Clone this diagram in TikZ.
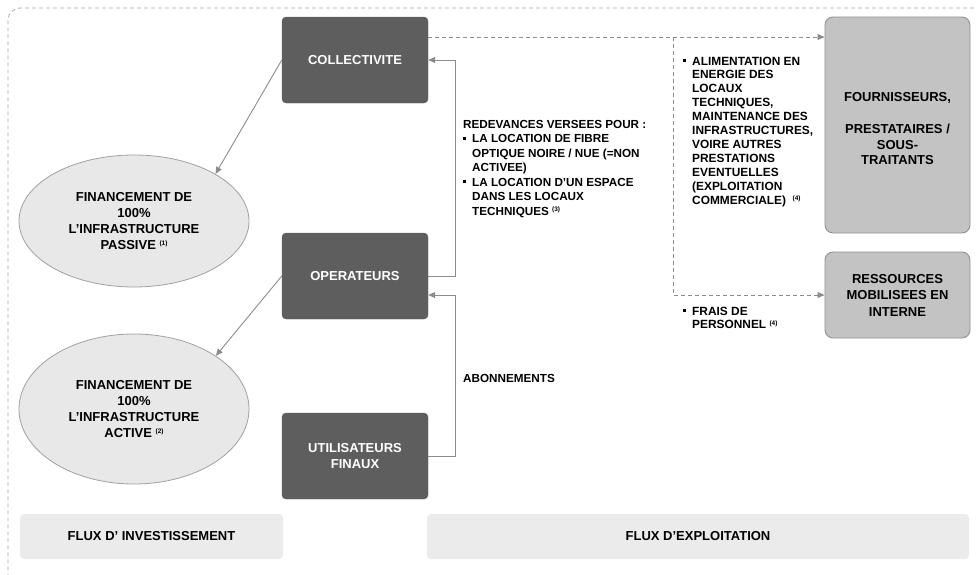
\documentclass[tikz,border=0pt]{standalone}
\usepackage{fontspec}
\setmainfont{Liberation Sans}
\usetikzlibrary{arrows.meta,shapes.geometric}
\definecolor{darkfill}{HTML}{5E5E5E}
\definecolor{ellfill}{HTML}{E8E8E8}
\definecolor{ellline}{HTML}{A0A0A0}
\definecolor{rightfill}{HTML}{C3C3C3}
\definecolor{rightline}{HTML}{909090}
\definecolor{fluxfill}{HTML}{EBEBEB}
\definecolor{connc}{HTML}{8C8C8C}
\definecolor{borderc}{HTML}{A8A8A8}
\newcommand{\bul}{\raisebox{2.7pt}{\rule{3pt}{3pt}}}
\newcommand{\bitem}{\makebox[9pt][l]{\bul}}
\newcommand{\bind}{\hspace*{9pt}}
\newcommand{\sups}[1]{\raisebox{3.5pt}{\fontsize{6.5}{6.5}\selectfont(#1)}}
\begin{document}
\begin{tikzpicture}[x=1pt,y=-1pt,
  darkbox/.style={draw=darkfill,fill=darkfill,rounded corners=4pt,minimum width=146pt,minimum height=86pt,
    text=white,font=\fontsize{13}{16}\selectfont\bfseries,align=center,inner sep=0pt},
  finell/.style={ellipse,draw=ellline,fill=ellfill,line width=0.8pt,inner sep=0pt,
    font=\fontsize{13}{16}\selectfont\bfseries,align=center},
  rightbox/.style={draw=rightline,fill=rightfill,line width=0.9pt,rounded corners=8pt,minimum width=145pt,
    font=\fontsize{13}{15.75}\selectfont\bfseries,align=center,inner sep=0pt},
  fluxbox/.style={fill=fluxfill,rounded corners=4pt,minimum height=45pt,
    font=\fontsize{13}{15}\selectfont\bfseries,inner sep=0pt},
  conn/.style={draw=connc,line width=0.9pt,-{Triangle[width=6pt,length=7pt]}},
  dconn/.style={draw=connc,line width=0.8pt,dash pattern=on 4pt off 3pt,-{Triangle[width=6pt,length=7pt]}},
  small/.style={font=\fontsize{11.7}{14.5}\selectfont\bfseries,inner sep=0pt,anchor=base west}
]
\useasboundingbox (0,0) rectangle (977,574);
\clip (0,0) rectangle (977,574);
% outer dashed frame (only top and left edges fall inside the picture)
\draw[borderc,line width=0.8pt,dash pattern=on 4pt off 3pt,rounded corners=12pt] (995,8) -- (8,8) -- (8,590) -- (995,590);

% dark boxes
\node[darkbox] (coll) at (355,60) {COLLECTIVITE};
\node[darkbox] (oper) at (355,276) {OPERATEURS};
\node[darkbox] (util) at (355,456) {UTILISATEURS\\FINAUX};

% ellipses
\node[finell,minimum width=230pt,minimum height=132pt] (e1) at (134,221)
  {FINANCEMENT DE\\100\%\\L’INFRASTRUCTURE\\PASSIVE \sups{1}};
\node[finell,minimum width=230pt,minimum height=150pt] (e2) at (134,409)
  {FINANCEMENT DE\\100\%\\L’INFRASTRUCTURE\\ACTIVE \sups{2}};

% right boxes
\node[rightbox,minimum height=216pt] (four) at (897.5,125)
  {\\[1pt]FOURNISSEURS,\\ \\PRESTATAIRES /\\SOUS-\\TRAITANTS};
\node[rightbox,minimum height=86pt,font=\fontsize{13}{16.5}\selectfont\bfseries] (ress) at (897.5,295)
  {RESSOURCES\\MOBILISEES EN\\INTERNE};

% flux boxes
\node[fluxbox,minimum width=263pt] (finv) at (151.5,536.5) {FLUX D’ INVESTISSEMENT};
\node[fluxbox,minimum width=542pt] (fexp) at (698,536.5) {FLUX D’EXPLOITATION};

% connectors
\draw[conn] (coll.west) -- (e1.30);
\draw[conn] (oper.west) -- (e2.33);
\draw[conn] (oper.east) -- ++(27,0) |- (coll.east);
\coordinate (opin) at ([yshift=-19pt]oper.east);
\draw[conn] (util.east) -- ++(27,0) |- (opin);
\coordinate (d0) at ([yshift=23pt]coll.east);
\draw[dconn] (d0) -- (d0 -| four.west);
\coordinate (d1) at (673,37);
\draw[dconn] (d1) |- (ress.west);

% text blocks
\node[small] (redev) at (463,128) {\parbox[t]{200pt}{\raggedright
REDEVANCES VERSEES POUR :\\
\bitem LA LOCATION DE FIBRE\\
\bind OPTIQUE NOIRE / NUE (=NON\\
\bind ACTIVEE)\\
\bitem LA LOCATION D’UN ESPACE\\
\bind DANS LES LOCAUX\\
\bind TECHNIQUES \sups{3}}};
\node[small] (abon) at (463,382) {ABONNEMENTS};
\node[small,font=\fontsize{11.9}{13.9}\selectfont\bfseries] (alim) at (683,65) {\parbox[t]{140pt}{\raggedright
\bitem ALIMENTATION EN\\
\bind ENERGIE DES\\
\bind LOCAUX\\
\bind TECHNIQUES,\\
\bind MAINTENANCE DES\\
\bind INFRASTRUCTURES,\\
\bind VOIRE AUTRES\\
\bind PRESTATIONS\\
\bind EVENTUELLES\\
\bind (EXPLOITATION\\
\bind COMMERCIALE)\ \ \sups{4}}};
\node[small,font=\fontsize{11.9}{13.5}\selectfont\bfseries] (frais) at (683,315) {\parbox[t]{140pt}{\raggedright
\bitem FRAIS DE\\
\bind PERSONNEL \sups{4}}};
\end{tikzpicture}
\end{document}
